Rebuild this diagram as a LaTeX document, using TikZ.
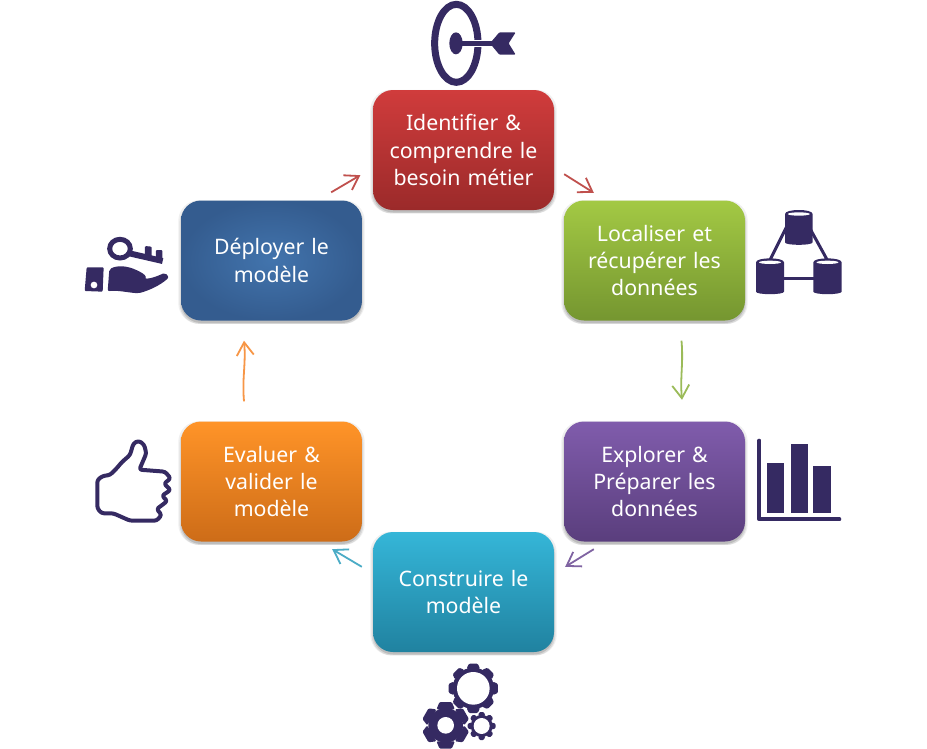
\documentclass[tikz,border=0pt]{standalone}
\usepackage{fontspec}
\setmainfont{Noto Sans}
\usetikzlibrary{arrows.meta,shadows,calc}
\definecolor{icon}{HTML}{352A62}
\definecolor{redT}{RGB}{208,60,60}\definecolor{redB}{RGB}{155,42,42}
\definecolor{greenT}{RGB}{163,201,68}\definecolor{greenB}{RGB}{117,150,48}
\definecolor{purpleT}{RGB}{128,92,172}\definecolor{purpleB}{RGB}{90,62,125}
\definecolor{tealT}{RGB}{53,182,216}\definecolor{tealB}{RGB}{32,130,160}
\definecolor{orangeT}{RGB}{255,148,40}\definecolor{orangeB}{RGB}{205,108,24}
\definecolor{blueI}{RGB}{66,116,173}\definecolor{blueO}{RGB}{52,92,143}
\definecolor{arRed}{RGB}{192,80,77}\definecolor{arGreen}{RGB}{155,187,89}
\definecolor{arPurple}{RGB}{128,100,162}\definecolor{arTeal}{RGB}{75,172,198}
\definecolor{arOrange}{RGB}{247,150,70}
\tikzset{
  softshadow/.style={
    general shadow={fill=black,opacity=.06,shadow yshift=-1.5pt,shadow scale=1.03},
    general shadow={fill=black,opacity=.09,shadow yshift=-2.5pt,shadow scale=1.015},
    general shadow={fill=black,opacity=.13,shadow yshift=-2.5pt,shadow scale=1.0}},
  boxnode/.style={softshadow,rounded corners=20pt,minimum width=181pt,minimum height=120pt,
    text width=175pt,align=center,text=white,inner sep=0pt,font=\fontsize{21.3}{27.3}\selectfont},
  conn/.style={line width=1.8pt,-{Straight Barb[length=13pt,width=17pt,line width=1.8pt]}},
}
\newcommand\gearicon[7]{%
  \fill[icon] (#1,#2) circle[radius=#4];
  \foreach \a in {1,...,#6}{%
    \fill[icon,shift={(#1,#2)},rotate=\a*360/#6,rounded corners=1.2pt]
      (-#7*1.2,#4-4) -- (-#7*.8,#3) -- (#7*.8,#3) -- (#7*1.2,#4-4) -- cycle;}
  \fill[white] (#1,#2) circle[radius=#5];}
\begin{document}
\begin{tikzpicture}[x=1pt,y=-1pt]
\useasboundingbox (0,0) rectangle (927,748);
\fill[white] (0,0) rectangle (927,748);

\node[boxnode,top color=redT,bottom color=redB] (red) at (463.5,150) {Identifier \&\\comprendre le\\besoin métier};
\node[boxnode,top color=greenT,bottom color=greenB] (green) at (654.5,260.5) {Localiser et\\récupérer les\\données};
\node[boxnode,top color=purpleT,bottom color=purpleB] (purple) at (654.5,481.5) {Explorer \&\\Préparer les\\données};
\node[boxnode,top color=tealT,bottom color=tealB] (teal) at (463.5,592) {Construire le\\modèle};
\node[boxnode,top color=orangeT,bottom color=orangeB] (orange) at (271.5,481.5) {Evaluer \&\\valider le\\modèle};
\node[boxnode,inner color=blueI,outer color=blueO] (blue) at (271.5,260.5) {Déployer le\\modèle};

% connectors
\draw[conn,arRed] ([xshift=10pt,yshift=36pt]red.south east) -- ([xshift=30pt,yshift=7.5pt]green.north west);
\draw[conn,arGreen] ([xshift=27pt,yshift=-20pt]green.south) to[out=-85,in=95] ([xshift=27.5pt,yshift=21.5pt]purple.north);
\draw[conn,arPurple] ([xshift=30pt,yshift=-7.5pt]purple.south west) -- ([xshift=11pt,yshift=-35pt]teal.north east);
\draw[conn,arTeal] ([xshift=-11pt,yshift=-35pt]teal.north west) -- ([xshift=-30pt,yshift=-7.5pt]orange.south east);
\draw[conn,arOrange] ([xshift=-27.5pt,yshift=20pt]orange.north) to[out=95,in=-85] ([xshift=-27.5pt,yshift=-20pt]blue.south);
\draw[conn,arRed] ([xshift=-31pt,yshift=8pt]blue.north east) -- ([xshift=-12.5pt,yshift=35pt]red.south west);

% target
\begin{scope}[shift={(370,0)},x=.3333pt,y=-.3333pt]
  \draw[icon,line width=7pt] (259,130) ellipse[x radius=65,y radius=117];
  \draw[white,line width=7.5pt] (290,130) -- (365,130);
  \fill[icon] (258,130) ellipse[x radius=20,y radius=33];
  \draw[icon,line width=4.5pt] (258,130) -- (380,130);
  \fill[icon,rounded corners=1pt] (360,130) -- (388,97) -- (437,97) -- (416,130) -- (437,164) -- (388,164) -- cycle;
\end{scope}

% databases
\begin{scope}[shift={(740,200)},x=.3333pt,y=-.3333pt]
  \draw[icon,line width=3pt] (145,70) -- (85,190) (208,82) -- (270,195);
  \draw[icon,line width=3pt] (90,235) -- (262,235);
  \foreach \xa/\xb/\ya/\yb in {135/218/42/135,48/132/187/283,220/305/187/283}{
    \fill[icon] (\xa,\ya) -- (\xa,\yb-8) .. controls (\xa,\yb+2) and (\xb,\yb+2) .. (\xb,\yb-8) -- (\xb,\ya)
      .. controls (\xb,\ya-16) and (\xa,\ya-16) .. cycle;
    \fill[white] ($(\xa,\ya)!.5!(\xb,\ya)$) ellipse[x radius=33,y radius=5];
  }
\end{scope}

% bar chart
\begin{scope}[shift={(740,425)},x=.3333pt,y=-.3333pt]
  \draw[icon,line width=4pt,line cap=round,line join=round] (58,47) -- (58,283) -- (298,283);
  \fill[icon] (80,115) rectangle (133,265);
  \fill[icon] (152,57) rectangle (203,265);
  \fill[icon] (220,122) rectangle (272,265);
\end{scope}

% thumb
\begin{scope}[shift={(80,425)},x=.3333pt,y=-.3333pt]
  \draw[icon,line width=4pt,line join=round,rounded corners=2.5pt]
    (68,153) -- (90,150) -- (110,130) -- (125,112) -- (150,90) -- (160,56) -- (175,47)
    -- (192,58) -- (199,85) -- (178,134) -- (255,140) -- (272,160) -- (252,176) -- (272,195)
    -- (246,212) -- (262,228) -- (240,245) -- (230,252) -- (245,270) -- (230,287) -- (150,287)
    -- (100,265) -- (65,265) -- (52,250) -- (52,165) -- cycle;
\end{scope}

% gears
\begin{scope}[shift={(410,650)},x=.3333pt,y=-.3333pt]
  \gearicon{190}{115}{74}{62}{49}{8}{17}
  \gearicon{107}{226}{70}{52}{25}{6}{23}
  \gearicon{215}{228}{42}{33}{24}{8}{9}
\end{scope}

% key in hand
\begin{scope}[shift={(70,190)},x=.3333pt,y=-.3333pt]
  \draw[icon,line width=5pt] (150,176) ellipse[x radius=31,y radius=28];
  \draw[icon,line width=6pt] (178,190) -- (278,213);
  \fill[icon,rounded corners=1pt] (225,200) -- (225,168) -- (245,170) -- (245,205) -- cycle;
  \fill[icon,rounded corners=1pt] (258,205) -- (258,180) -- (277,180) -- (277,212) -- cycle;
  \fill[icon,rounded corners=1pt] (50,232) -- (101,232) -- (98,305) -- (44,303) -- cycle;
  \fill[white] (72,285) circle[radius=10];
  \fill[icon,rounded corners=2pt] (118,238) .. controls (140,226) and (170,226) .. (205,243)
    .. controls (225,253) and (228,260) .. (224,266) .. controls (245,266) and (270,255) .. (285,248)
    -- (297,262) .. controls (270,287) and (235,302) .. (205,310) .. controls (170,307) and (140,300) .. (113,304) -- cycle;
\end{scope}
\end{tikzpicture}
\end{document}
